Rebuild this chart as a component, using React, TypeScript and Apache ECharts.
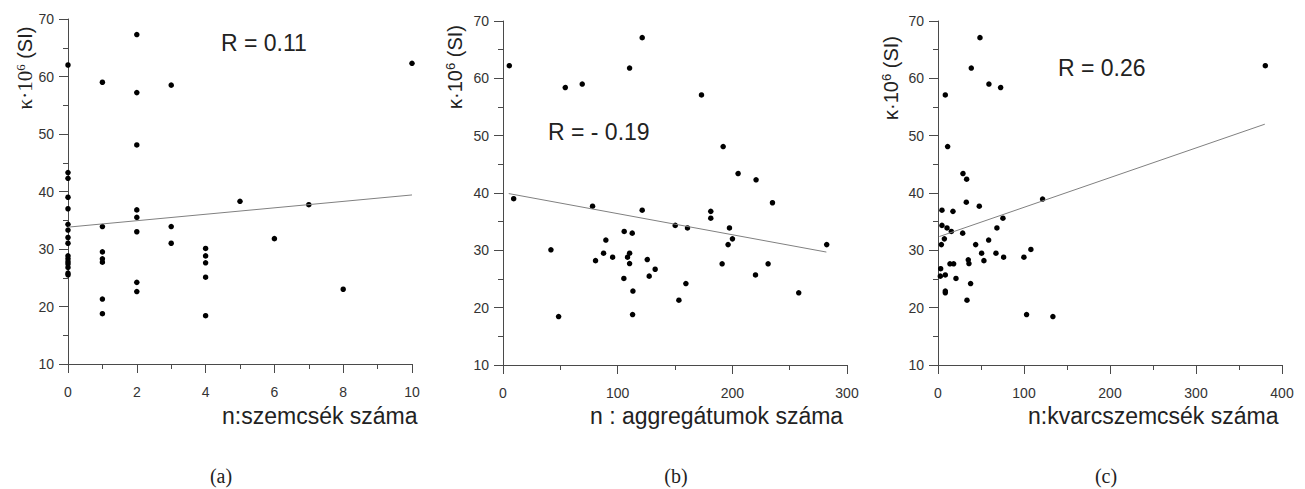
import React, { useEffect, useRef } from "react";
import * as echarts from "echarts";

// Panel (a): n: szemcsék száma vs kappa
const aX = [0,0,0,0,0,0,0,0,0,0,0,0,0,0,0,0, 1,1,1,1,1,1,1, 2,2,2,2,2,2,2,2, 3,3,3, 4,4,4,4,4, 5,6,7,8,10];
const aY = [62.0,43.3,42.3,39.0,37.0,34.3,33.3,32.0,31.0,28.8,28.3,27.8,27.4,26.8,25.8,25.5,
  59.0,33.9,29.5,28.3,27.7,21.3,18.75,
  67.3,57.2,48.1,36.8,35.5,33.0,24.2,22.6,
  58.5,33.9,31.0,
  30.1,28.8,27.6,25.1,18.4,
  38.3,31.8,37.7,23.0,62.3];
const aFit = [[0, 33.8], [10, 39.4]];

// Panel (b): n: aggregátumok száma
const bX = [5.5,54.3,69.1,110.4,121.4,173.1,192,205,220.7,9.3,41.8,48.5,78.1,80.7,87.7,89.7,95.6,105.4,105.7,108.6,110.4,110.4,112.7,113.3,113.0,121.4,125.8,127.5,132.7,150.2,153.4,159.5,160.9,181.2,181.2,191.1,196.3,197.5,200.1,220.2,231.2,235.0,257.9,282.3];
const bY = [62.2,58.4,59.0,61.8,67.1,57.1,48.1,43.4,42.3,39.0,30.1,18.45,37.7,28.2,29.5,31.8,28.8,25.1,33.3,28.8,29.5,27.7,33.0,22.9,18.8,37.0,28.4,25.5,26.7,34.35,21.3,24.2,33.9,36.8,35.6,27.65,31.0,33.9,32.0,25.7,27.65,38.3,22.6,31.0];
const bFit = [[5, 39.9], [282, 29.7]];

// Panel (c): n: kvarcszemcsék száma
const cX = [8.5,11.2,29.0,33.3,38.7,48.8,59.2,72.8,380.6,121.6,4.6,32.9,48.0,17.4,4.6,10.5,15.5,28.7,7.4,3.9,3.1,2.7,8.5,8.5,8.5,13.9,18.2,20.9,33.7,35.2,36.0,37.9,43.8,50.7,53.4,58.9,67.4,68.5,75.5,76.3,99.9,103.0,108.0,133.6];
const cY = [57.1,48.1,43.4,42.4,61.8,67.1,59.0,58.4,62.2,38.95,37.0,38.4,37.7,36.8,34.35,33.9,33.3,33.0,32.0,31.0,26.8,25.5,25.7,22.9,22.6,27.65,27.65,25.1,21.3,28.35,27.7,24.2,31.0,29.5,28.2,31.8,29.5,33.9,35.6,28.8,28.8,18.8,30.15,18.45];
const cFit = [[1.5, 32.4], [380, 52.0]];

const yTicks = { min: 10, max: 70, interval: 10 };
const xRanges = [
  { min: 0, max: 10, interval: 2 },
  { min: 0, max: 300, interval: 100 },
  { min: 0, max: 400, interval: 100 },
];
const rLabels = ["R = 0.11", "R = - 0.19", "R = 0.26"];
const xNames = ["n:szemcsék száma", "n : aggregátumok száma", "n:kvarcszemcsék száma"];
const captions = ["(a)", "(b)", "(c)"];

const FONT = "'Liberation Sans', Arial, sans-serif";
const SERIF = "'Liberation Serif', 'Times New Roman', serif";
const AXIS = "#4a4a4a";

export default function App() {
  const ref = useRef<HTMLDivElement>(null);
  useEffect(() => {
    if (!ref.current) return;
    const chart = echarts.init(ref.current, undefined, { renderer: "svg" });
    const grids = [
      { left: 68, top: 19, width: 344, height: 345 },
      { left: 503, top: 21, width: 344, height: 344 },
      { left: 938, top: 21, width: 344, height: 344 },
    ];
    const pts = [
      aX.map((x, i) => [x, aY[i]]),
      bX.map((x, i) => [x, bY[i]]),
      cX.map((x, i) => [x, cY[i]]),
    ];
    const fits = [aFit, bFit, cFit];
    const axisCommon = {
      axisLine: { lineStyle: { color: AXIS, width: 1 } },
      axisTick: { show: true, inside: false, length: 9, lineStyle: { color: AXIS } },
      minorTick: { show: true, splitNumber: 2, length: 5, lineStyle: { color: AXIS } },
      splitLine: { show: false },
      minorSplitLine: { show: false },
    };
    const xAxis = xRanges.map((r, i) => ({
      type: "value",
      gridIndex: i,
      ...r,
      ...axisCommon,
      axisLabel: { color: "#333", fontSize: 14, fontFamily: FONT, margin: 21 },
    }));
    const yAxis = grids.map((_, i) => ({
      type: "value",
      gridIndex: i,
      ...yTicks,
      ...axisCommon,
      axisLabel: { color: "#333", fontSize: 14, fontFamily: FONT, margin: 14 },
    }));
    const series: any[] = [];
    pts.forEach((p, i) => {
      series.push({
        type: "scatter",
        xAxisIndex: i,
        yAxisIndex: i,
        data: p,
        symbolSize: 5.5,
        itemStyle: { color: "#000", opacity: 1 },
      });
      series.push({
        type: "line",
        xAxisIndex: i,
        yAxisIndex: i,
        data: fits[i],
        symbol: "none",
        lineStyle: { color: "#808080", width: 1 },
      });
    });
    const rPos = [
      { x: 221, y: 43, align: "left" },
      { x: 548, y: 132, align: "left" },
      { x: 1058, y: 68, align: "left" },
    ];
    const yNamePos = [
      { x: 25, y: 68 },
      { x: 455, y: 67 },
      { x: 891, y: 78 },
    ];
    const yNameText = [
      "{k|κ·10}{ks|6}{b| (SI)}",
      "{b|κ·10}{s|6}{b| (SI)}",
      "{b|κ·10}{s|6}{b| (SI)}",
    ];
    const xNameLeft = [222, 590, 1028];
    const capX = [221, 676, 1106];
    const graphic: any[] = [];
    for (let i = 0; i < 3; i++) {
      graphic.push({
        type: "text",
        x: rPos[i].x,
        y: rPos[i].y,
        style: {
          text: rLabels[i],
          fontSize: 23,
          fontFamily: FONT,
          fill: "#222",
          align: rPos[i].align,
          verticalAlign: "middle",
        },
      });
      graphic.push({
        type: "text",
        x: yNamePos[i].x,
        y: yNamePos[i].y,
        rotation: Math.PI / 2,
        style: {
          text: yNameText[i],
          align: "center",
          verticalAlign: "middle",
          fill: "#222",
          rich: {
            b: { fontSize: 20, fontFamily: FONT, fill: "#222" },
            s: { fontSize: 13, fontFamily: FONT, fill: "#222", padding: [0, 0, 9, 0] },
            k: { fontSize: 21, fontFamily: SERIF, fill: "#222" },
            ks: { fontSize: 13, fontFamily: SERIF, fill: "#222", padding: [0, 0, 9, 0] },
          },
        },
      });
      graphic.push({
        type: "text",
        x: xNameLeft[i],
        y: 416,
        style: {
          text: xNames[i],
          fontSize: 23,
          fontFamily: FONT,
          fill: "#222",
          align: "left",
          verticalAlign: "middle",
        },
      });
      graphic.push({
        type: "text",
        x: capX[i],
        y: 476,
        style: {
          text: captions[i],
          fontSize: 20,
          fontFamily: SERIF,
          fill: "#222",
          align: "center",
          verticalAlign: "middle",
        },
      });
    }
    chart.setOption({
      animation: false,
      backgroundColor: "#fff",
      grid: grids,
      xAxis,
      yAxis,
      series,
      graphic,
    });
    return () => chart.dispose();
  }, []);
  return (
    <div
      ref={ref}
      style={{ position: "fixed", left: 0, top: 0, width: 1305, height: 489 }}
    />
  );
}
